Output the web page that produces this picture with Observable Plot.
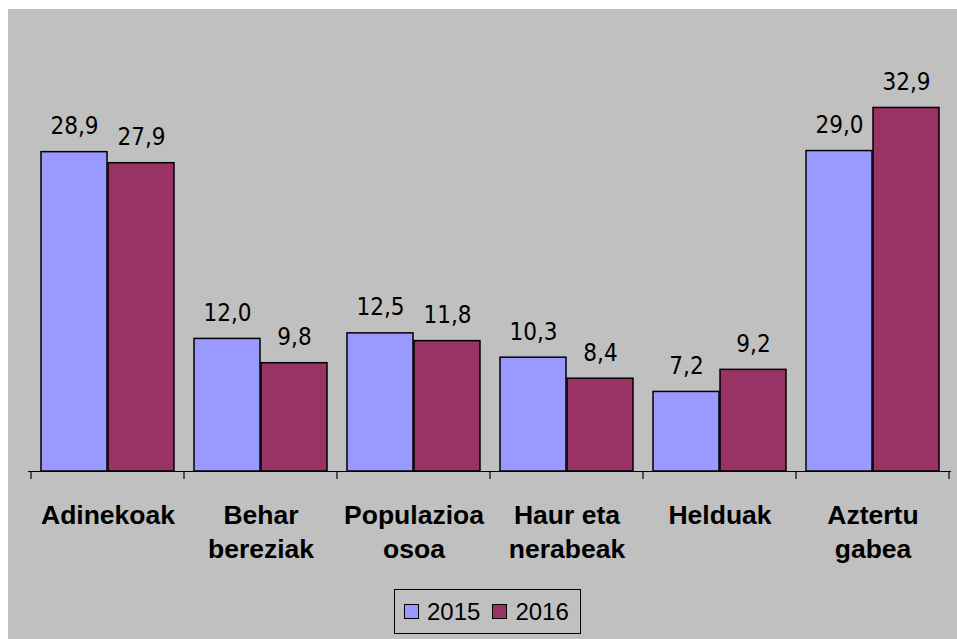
<!DOCTYPE html>
<html>
<head>
<meta charset="utf-8">
<script src="https://cdn.jsdelivr.net/npm/d3@7"></script>
<script src="https://cdn.jsdelivr.net/npm/@observablehq/plot@0.6"></script>
<style>
  html, body { margin: 0; padding: 0; background: #ffffff; }
  #panel { position: absolute; left: 8px; top: 9px; width: 949px; height: 630px; background: #c0c0c0; }
  #legend { position: absolute; left: 386px; top: 580px; width: 185px; height: 43px; border: 1.5px solid #000;
            display: flex; align-items: center; font-family: "Liberation Sans", Arial, sans-serif; font-size: 24px; color: #000; }
  .sw { display: inline-block; width: 13px; height: 13px; border: 1.5px solid #000; margin-left: 9px; margin-right: 8px; }
</style>
</head>
<body>
<div id="panel"></div>
<script>
const categories = ["Adinekoak", "Behar\nbereziak", "Populazioa\nosoa", "Haur eta\nnerabeak", "Helduak", "Aztertu\ngabea"];
const values2015 = [28.9, 12.0, 12.5, 10.3, 7.2, 29.0];
const values2016 = [27.9, 9.8, 11.8, 8.4, 9.2, 32.9];
const seriesNames = ["2015", "2016"];
const seriesColors = ["#9999ff", "#993366"];

const d2015 = categories.map((c, i) => ({cat: c, value: values2015[i]}));
const d2016 = categories.map((c, i) => ({cat: c, value: values2016[i]}));
const fmt = v => v.toFixed(1).replace(".", ",");

const valueFont = {fontFamily: "'DejaVu Sans Condensed', 'DejaVu Sans', sans-serif", fontSize: 24, fill: "#000", stroke: "none"};

const boundaryTicks = (index, scales, values, dims) => {
  const x = scales.x;
  const bw = x.bandwidth ? x.bandwidth() : 0;
  const y0 = dims.height - dims.marginBottom;
  const xs = x.domain().map(d => x(d));
  xs.push(xs[xs.length - 1] + bw);
  const g = d3.create("svg:g");
  for (const xv of xs) {
    g.append("line").attr("x1", xv).attr("x2", xv).attr("y1", y0).attr("y2", y0 + 8)
      .attr("stroke", "#000").attr("stroke-width", 1.2);
  }
  return g.node();
};

const chart = Plot.plot({
  width: 949,
  height: 570,
  marginLeft: 20,
  marginRight: 6,
  marginTop: 20,
  marginBottom: 108,
  style: {background: "transparent", overflow: "visible"},
  x: {domain: categories, padding: 0, axis: null},
  y: {domain: [0, 40], axis: null},
  marks: [
    Plot.barY(d2015, {x: "cat", y: "value", fill: seriesColors[0], stroke: "#000", strokeWidth: 1.5, insetLeft: 10, insetRight: 77}),
    Plot.barY(d2016, {x: "cat", y: "value", fill: seriesColors[1], stroke: "#000", strokeWidth: 1.5, insetLeft: 77, insetRight: 10}),
    Plot.ruleY([0], {stroke: "#000", strokeWidth: 1.2}),
    boundaryTicks,
    Plot.text(d2015, {x: "cat", y: "value", text: d => fmt(d.value), dx: -33.5, dy: -18, lineAnchor: "bottom", ...valueFont}),
    Plot.text(d2016, {x: "cat", y: "value", text: d => fmt(d.value), dx: 33.5, dy: -18, lineAnchor: "bottom", ...valueFont}),
    Plot.text(categories, {x: d => d, text: d => d, frameAnchor: "bottom", lineAnchor: "top", dy: 28,
      fontFamily: "'Liberation Sans', Arial, sans-serif", fontWeight: "bold", fontSize: 26.5, lineHeight: 1.28, fill: "#000"})
  ]
});

const panel = document.getElementById("panel");
panel.appendChild(chart);

const legend = document.createElement("div");
legend.id = "legend";
seriesNames.forEach((name, i) => {
  const sw = document.createElement("span");
  sw.className = "sw";
  sw.style.background = seriesColors[i];
  if (i > 0) sw.style.marginLeft = "12px";
  legend.appendChild(sw);
  const t = document.createElement("span");
  t.textContent = name;
  legend.appendChild(t);
});
panel.appendChild(legend);
</script>
</body>
</html>
